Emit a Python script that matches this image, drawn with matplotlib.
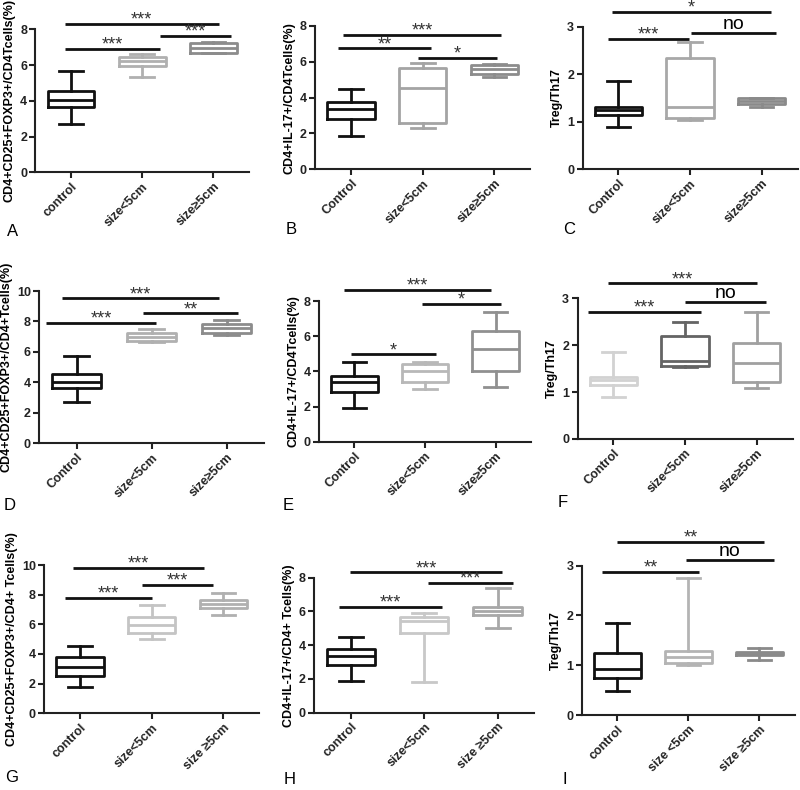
import matplotlib.pyplot as plt

plt.rcParams['font.family'] = ['Liberation Sans', 'DejaVu Sans']

# each box: whisker low, q1, median, q3, whisker high
box_A = [[2.7, 3.64, 4.05, 4.57, 5.69], [5.35, 5.95, 6.2, 6.44, 6.62], [6.66, 6.66, 6.94, 7.22, 7.31]]
box_B = [[1.86, 2.81, 3.37, 3.76, 4.48], [2.33, 2.57, 4.54, 5.67, 5.92], [5.17, 5.32, 5.58, 5.84, 5.86]]
box_C = [[0.9, 1.14, 1.24, 1.32, 1.85], [1.04, 1.08, 1.32, 2.35, 2.67], [1.32, 1.37, 1.43, 1.49, 1.5]]
box_D = [[2.74, 3.65, 4.05, 4.57, 5.73], [6.67, 6.74, 7.0, 7.26, 7.5], [7.11, 7.22, 7.55, 7.81, 8.1]]
box_E = [[1.9, 2.84, 3.37, 3.75, 4.51], [3.0, 3.37, 4.04, 4.44, 4.51], [3.09, 4.02, 5.25, 6.29, 7.36]]
box_F = [[0.9, 1.15, 1.25, 1.33, 1.85], [1.54, 1.56, 1.67, 2.2, 2.49], [1.09, 1.22, 1.61, 2.04, 2.7]]
box_G = [[1.78, 2.54, 3.15, 3.82, 4.56], [5.01, 5.44, 5.96, 6.47, 7.28], [6.65, 7.08, 7.37, 7.64, 8.09]]
box_H = [[1.88, 2.83, 3.38, 3.77, 4.5], [1.82, 4.7, 5.45, 5.65, 5.89], [5.0, 5.77, 6.05, 6.28, 7.37]]
box_I = [[0.49, 0.74, 0.92, 1.24, 1.84], [1.0, 1.05, 1.17, 1.29, 2.75], [1.1, 1.21, 1.23, 1.26, 1.34]]

# significance brackets: x from, x to, height, label
sig_A = [(0.91, 3.08, 8.3, '***'), (0.91, 2.25, 6.9, '***'), (2.25, 3.25, 7.65, '***')]
sig_B = [(0.89, 3.09, 7.52, '***'), (0.82, 2.12, 6.75, '**'), (1.93, 3.03, 6.2, '*')]
sig_C = [(0.91, 3.13, 3.31, '*'), (0.85, 1.98, 2.75, '***'), (2.01, 3.2, 2.87, 'no')]
sig_D = [(0.81, 2.9, 9.52, '***'), (0.59, 2.06, 7.92, '***'), (1.89, 3.15, 8.53, '**')]
sig_E = [(0.86, 2.93, 8.63, '***'), (1.96, 3.08, 7.83, '*'), (0.95, 2.15, 4.97, '*')]
sig_F = [(0.93, 3.01, 3.32, '***'), (0.65, 2.23, 2.71, '***'), (2.0, 3.13, 2.92, 'no')]
sig_G = [(0.9, 2.73, 9.78, '***'), (0.79, 2.01, 7.8, '***'), (1.86, 2.86, 8.65, '***')]
sig_H = [(0.99, 3.06, 8.32, '***'), (2.05, 3.21, 7.67, '***'), (0.84, 2.24, 6.28, '***')]
sig_I = [(1.0, 3.07, 3.48, '**'), (1.97, 3.2, 3.11, 'no'), (0.78, 2.15, 2.87, '**')]

groups_AF = ['control', 'size<5cm', 'size\u22655cm']
groups_BF = ['Control', 'size<5cm', 'size\u22655cm']
groups_GH = ['control', 'size<5cm', 'size \u22655cm']
groups_I = ['control', 'size <5cm', 'size \u22655cm']

ylab_treg = 'CD4+CD25+FOXP3+/CD4Tcells(%)'
ylab_il17 = 'CD4+IL-17+/CD4Tcells(%)'
ylab_ratio = 'Treg/Th17'

panels = [
    ('A', box_A, sig_A, groups_AF, ylab_treg, [0, 2, 4, 6, 8], ['#111111', '#b0b0b0', '#8c8c8c']),
    ('B', box_B, sig_B, groups_BF, ylab_il17, [0, 2, 4, 6, 8], ['#111111', '#a4a4a4', '#8c8c8c']),
    ('C', box_C, sig_C, groups_BF, ylab_ratio, [0, 1, 2, 3], ['#111111', '#a8a8a8', '#8a8a8a']),
    ('D', box_D, sig_D, groups_BF, 'CD4+CD25+FOXP3+/CD4+Tcells(%)', [0, 2, 4, 6, 8, 10], ['#111111', '#b0b0b0', '#8c8c8c']),
    ('E', box_E, sig_E, groups_BF, ylab_il17, [0, 2, 4, 6, 8], ['#111111', '#b8b8b8', '#909090']),
    ('F', box_F, sig_F, groups_BF, ylab_ratio, [0, 1, 2, 3], ['#d2d2d2', '#646464', '#a0a0a0']),
    ('G', box_G, sig_G, groups_GH, 'CD4+CD25+FOXP3+/CD4+ Tcells(%)', [0, 2, 4, 6, 8, 10], ['#111111', '#c4c4c4', '#b0b0b0']),
    ('H', box_H, sig_H, groups_GH, 'CD4+IL-17+/CD4+ Tcells(%)', [0, 2, 4, 6, 8], ['#111111', '#c8c8c8', '#a8a8a8']),
    ('I', box_I, sig_I, groups_I, ylab_ratio, [0, 1, 2, 3], ['#111111', '#b4b4b4', '#8a8a8a']),
]

# axes frames in pixels: left, top, width, bottom ; letter x, y
frames = [
    (35.4, 29.3, 213.6, 172.3, 7, 231),
    (315.2, 26.0, 215.0, 169.3, 286, 230),
    (582.5, 26.7, 215.0, 169.3, 563, 230),
    (39.2, 291.0, 225.0, 443.3, 4, 506),
    (319.0, 301.0, 212.0, 441.7, 283, 505),
    (577.5, 298.3, 215.0, 439.0, 558, 503),
    (44.2, 565.0, 215.0, 713.3, 5, 778),
    (314.3, 577.7, 220.0, 712.7, 284, 780),
    (581.8, 565.7, 213.0, 715.0, 563, 779),
]

W, H = 800, 790
fig = plt.figure(figsize=(W / 100, H / 100), dpi=100)

for (letter, boxes, sigs, groups, ylab, yticks, colors), fr in zip(panels, frames):
    left, top, width, bottom, lx, ly = fr
    ax = fig.add_axes([left / W, 1 - bottom / H, width / W, (bottom - top) / H])
    for i, (b, c) in enumerate(zip(boxes, colors)):
        st = dict(whislo=b[0], q1=b[1], med=b[2], q3=b[3], whishi=b[4], fliers=[])
        props = dict(color=c, linewidth=2.0)
        ax.bxp([st], positions=[i + 1], widths=0.66, showfliers=False,
               boxprops=props, medianprops=props, whiskerprops=props, capprops=props)
    ymax = yticks[-1]
    for x0, x1, y, lab in sigs:
        ax.plot([x0, x1], [y, y], color='#111111', lw=2.0, clip_on=False, solid_capstyle='butt')
        if lab == 'no':
            ax.annotate(lab, xy=((x0 + x1) / 2, y), xytext=(0, 3), textcoords='offset points',
                        ha='center', va='baseline', fontsize=14, annotation_clip=False)
        else:
            ax.annotate(lab, xy=((x0 + x1) / 2, y), xytext=(0, -0.5), textcoords='offset points',
                        ha='center', va='baseline', fontsize=13, color='#333333',
                        annotation_clip=False)
    ax.set_xlim(0.5, 3.5)
    ax.set_ylim(0, ymax)
    ax.set_yticks(yticks)
    ax.set_yticklabels([str(t) for t in yticks], fontweight='bold', fontsize=9)
    ax.set_xticks([1, 2, 3])
    ax.set_xticklabels(groups, rotation=45, ha='right', rotation_mode='anchor',
                       fontweight='bold', fontsize=9)
    ax.set_ylabel(ylab, fontweight='bold', fontsize=9, labelpad=3)
    for s in ['top', 'right']:
        ax.spines[s].set_visible(False)
    for s in ['left', 'bottom']:
        ax.spines[s].set_linewidth(1.5)
        ax.spines[s].set_color('#222222')
    ax.tick_params(length=4, width=1.5, pad=2, colors='#222222')
    fig.text(lx / W, 1 - ly / H, letter, fontsize=12, ha='left', va='center')

fig.savefig('out.png', dpi=100)
